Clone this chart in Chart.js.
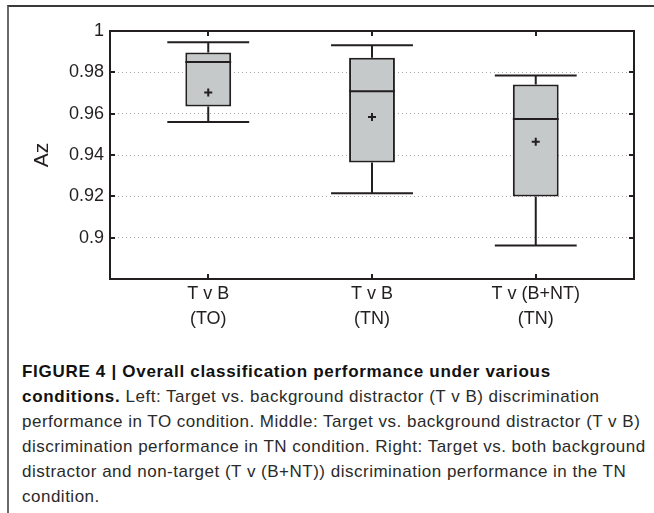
<!DOCTYPE html>
<html>
<head>
<meta charset="utf-8">
<script src="https://cdn.jsdelivr.net/npm/chart.js@4/dist/chart.umd.min.js"></script>
<style>
  html, body { margin: 0; padding: 0; background: #fff; }
  body { width: 654px; height: 513px; position: relative; overflow: hidden; font-family: 'Liberation Sans', Arial, sans-serif; }
  .frame { position: absolute; left: 7px; top: 5px; right: 0; bottom: 0; border-top: 2px solid #3a3a3a; border-left: 2px solid #6a6a6a; }
  .plot { position: absolute; left: 0; top: 0; width: 654px; height: 345px; }
  .caption { position: absolute; left: 22px; top: 359px; font-size: 17px; letter-spacing: 0.5px; line-height: 25px; color: #2a2a2a; white-space: nowrap; }
  .caption b { color: #111; letter-spacing: 0.7px; }
</style>
</head>
<body>
<div class="frame"></div>
<div class="plot"><canvas id="boxChart" width="654" height="345"></canvas></div>
<div class="caption">
  <div><b>FIGURE 4 | Overall classification performance under various</b></div>
  <div><b>conditions.</b> Left: Target vs. background distractor (T v B) discrimination</div>
  <div>performance in TO condition. Middle: Target vs. background distractor (T v B)</div>
  <div>discrimination performance in TN condition. Right: Target vs. both background</div>
  <div>distractor and non-target (T v (B+NT)) discrimination performance in the TN</div>
  <div>condition.</div>
</div>
<script>
// box plot values
const categories = [['T v B', '(TO)'], ['T v B', '(TN)'], ['T v (B+NT)', '(TN)']];
const positions = [1, 2, 3];
const whiskerLow = [0.956, 0.9215, 0.8962];
const quartile1 = [0.9635, 0.9364, 0.9199];
const medians = [0.985, 0.9709, 0.9574];
const quartile3 = [0.9896, 0.9871, 0.9741];
const whiskerHigh = [0.9946, 0.9931, 0.9785];
const means = [0.9703, 0.9584, 0.9464];
const yTicks = [0.88, 0.9, 0.92, 0.94, 0.96, 0.98, 1];

const INK = '#231f20';
const BOX_FILL = '#c6c9c9';
const BOX_HALF = 0.14;
const CAP_HALF = 0.25;

function segments(pairs) {
  // each pair is [[x0,y0],[x1,y1]]; a null y breaks the line
  const out = [];
  pairs.forEach(([a, b]) => {
    out.push({ x: a[0], y: a[1] }, { x: b[0], y: b[1] }, { x: a[0], y: null });
  });
  return out;
}

const whiskerData = segments(positions.flatMap((p, i) => [
  [[p, quartile3[i]], [p, whiskerHigh[i]]],
  [[p, quartile1[i]], [p, whiskerLow[i]]],
  [[p - CAP_HALF, whiskerHigh[i]], [p + CAP_HALF, whiskerHigh[i]]],
  [[p - CAP_HALF, whiskerLow[i]], [p + CAP_HALF, whiskerLow[i]]],
]));

const medianData = segments(positions.map((p, i) => [[p - BOX_HALF, medians[i]], [p + BOX_HALF, medians[i]]]));

const lineStyle = {
  type: 'line',
  borderColor: INK,
  borderWidth: 2,
  pointRadius: 0,
  tension: 0,
  spanGaps: false,
  borderCapStyle: 'butt',
};

function fmtTick(v) {
  return String(Number(v.toFixed(2)));
}

const frameTicks = {
  id: 'frameTicks',
  afterDraw(chart) {
    const { ctx, chartArea: a, scales } = chart;
    const len = 5;
    ctx.save();
    ctx.strokeStyle = INK;
    ctx.lineWidth = 2;
    ctx.beginPath();
    yTicks.slice(1, -1).forEach(v => {
      const y = Math.round(scales.y.getPixelForValue(v));
      ctx.moveTo(a.left, y); ctx.lineTo(a.left + len, y);
      ctx.moveTo(a.right, y); ctx.lineTo(a.right - len, y);
    });
    positions.forEach(p => {
      const x = Math.round(scales.x.getPixelForValue(p));
      ctx.moveTo(x, a.top); ctx.lineTo(x, a.top + len);
      ctx.moveTo(x, a.bottom); ctx.lineTo(x, a.bottom - len);
    });
    ctx.stroke();
    ctx.strokeRect(a.left, a.top, a.right - a.left, a.bottom - a.top);
    ctx.restore();
  },
};

new Chart(document.getElementById('boxChart'), {
  type: 'bar',
  data: {
    datasets: [
      {
        type: 'scatter',
        data: positions.map((p, i) => ({ x: p, y: means[i] })),
        pointStyle: 'cross',
        pointRadius: 4,
        borderWidth: 2,
        borderColor: INK,
      },
      { ...lineStyle, data: medianData },
      { ...lineStyle, data: whiskerData },
      {
        type: 'bar',
        data: positions.map((p, i) => ({ x: p, y: [quartile1[i], quartile3[i]] })),
        backgroundColor: BOX_FILL,
        borderColor: INK,
        borderWidth: 2,
        borderSkipped: false,
        barPercentage: 0.28,
        categoryPercentage: 1,
      },
    ],
  },
  options: {
    responsive: false,
    animation: false,
    layout: { padding: { top: 31, right: 20, left: 0, bottom: 0 } },
    plugins: { legend: { display: false }, tooltip: { enabled: false } },
    scales: {
      x: {
        type: 'linear',
        min: 0.4,
        max: 3.6,
        offset: false,
        afterBuildTicks: scale => { scale.ticks = positions.map(v => ({ value: v })); },
        afterFit: scale => { scale.height = 66; },
        grid: { display: false, drawTicks: false },
        border: { display: false },
        ticks: {
          padding: 2,
          color: INK,
          font: { family: "'Liberation Sans', Arial, sans-serif", size: 18, lineHeight: 1.4 },
          callback: value => categories[positions.indexOf(value)],
        },
      },
      y: {
        min: 0.88,
        max: 1,
        afterBuildTicks: scale => { scale.ticks = yTicks.map(v => ({ value: v })); },
        afterFit: scale => { scale.width = 110; },
        grid: {
          drawTicks: false,
          color: ctx => (ctx.tick && (ctx.tick.value <= 0.881 || ctx.tick.value >= 0.999) ? 'rgba(0,0,0,0)' : '#a8a8a8'),
          lineWidth: 1,
        },
        border: { display: false, dash: [1, 3] },
        ticks: {
          padding: 6,
          color: INK,
          font: { family: "'Liberation Sans', Arial, sans-serif", size: 18 },
          callback: value => (value < 0.89 ? '' : fmtTick(value)),
        },
        title: {
          display: true,
          text: 'Az',
          color: INK,
          font: { family: "'Liberation Sans', Arial, sans-serif", size: 21 },
          padding: { top: 30, bottom: 0 },
        },
      },
    },
  },
  plugins: [frameTicks],
});
</script>
</body>
</html>
